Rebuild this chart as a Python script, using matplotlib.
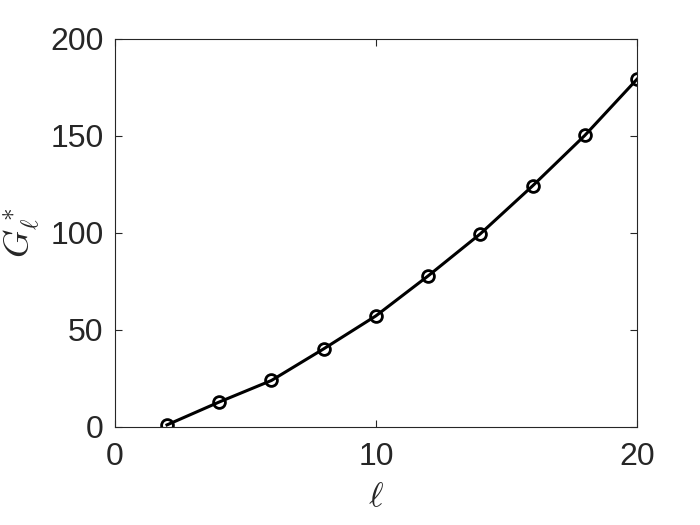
import matplotlib
matplotlib.use("Agg")
import matplotlib.pyplot as plt

ell = [2, 4, 6, 8, 10, 12, 14, 16, 18, 20]
G = [1.0, 12.8, 23.9, 40.2, 57.2, 77.8, 99.5, 124.2, 150.2, 179.2]
xticks = [0, 10, 20]
yticks = [0, 50, 100, 150, 200]

plt.rcParams['font.family'] = ['Liberation Sans', 'DejaVu Sans']
plt.rcParams['mathtext.fontset'] = 'cm'

fig = plt.figure(figsize=(7, 5.25), dpi=100)
ax = fig.add_axes([0.164, 0.187, 0.746, 0.739])
ax.plot(ell, G, color='black', linewidth=2.2, marker='o', markersize=8.5,
        markerfacecolor='none', markeredgewidth=2.0, markeredgecolor='black')
ax.set_xlim(0, 20)
ax.set_ylim(0, 200)
ax.set_xticks(xticks)
ax.set_yticks(yticks)
ax.tick_params(direction='in', length=5, width=0.8, labelsize=23, colors='#262626',
               top=True, right=True)
ax.tick_params(axis='x', pad=11)
ax.tick_params(axis='y', pad=8)
for s in ax.spines.values():
    s.set_linewidth(0.8)
    s.set_color('#262626')
ax.set_xlabel(r'$\ell$', fontsize=25, labelpad=6, color='#262626')
ax.set_ylabel(r'$G^*_\ell$', fontsize=26, labelpad=6, color='#262626')
fig.savefig('out.png', dpi=100)
